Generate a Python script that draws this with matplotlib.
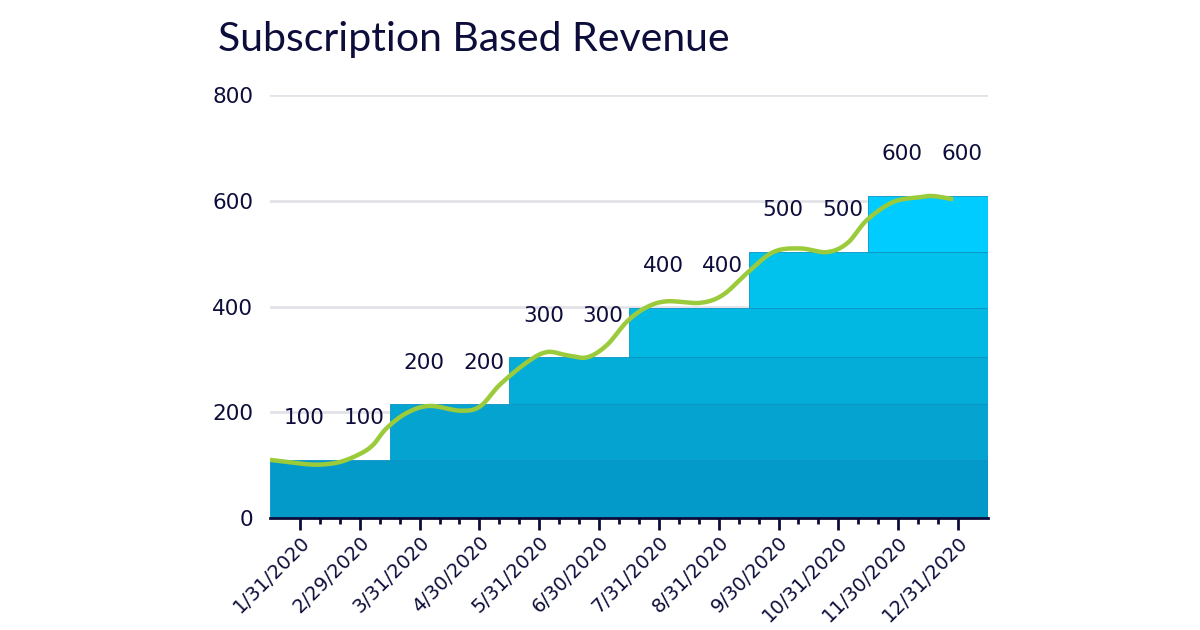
import numpy as np
import matplotlib
matplotlib.use('Agg')
import matplotlib.pyplot as plt

# month labels and revenue shown above each month
months = ['1/31/2020', '2/29/2020', '3/31/2020', '4/30/2020', '5/31/2020', '6/30/2020',
          '7/31/2020', '8/31/2020', '9/30/2020', '10/31/2020', '11/30/2020', '12/31/2020']
revenue = [100, 100, 200, 200, 300, 300, 400, 400, 500, 500, 600, 600]

# height of the stepped area as drawn in the picture (a bit off the labels)
step_tops = [110, 110, 215, 215, 304, 304, 397, 397, 503, 503, 609, 609]

# green trend curve (x in month index)
trend_x = [-0.50, 0.00, 0.33, 0.67, 1.00, 1.22, 1.45, 1.79, 2.17, 2.68, 3.01, 3.34,
           3.80, 4.13, 4.46, 4.80, 5.13, 5.47, 5.80, 6.14, 6.69, 7.07, 7.47, 7.91,
           8.36, 8.81, 9.15, 9.48, 9.92, 10.37, 10.59, 10.92]
trend_y = [110, 103, 101, 106, 121, 138, 170, 199, 212, 203, 211, 252,
           295, 314, 308, 304, 327, 372, 399, 410, 407, 422, 463, 503,
           510, 503, 520, 564, 598, 607, 609, 603]

band_colors = ['#0399C9', '#04A3D0', '#03ADD8', '#00B8E2', '#00C2EC', '#00CCFF']
navy = '#0D0D3B'
green = '#9BCB3B'


def catmull_rom(xs, ys, n=20):
    # smooth curve through the read points
    xs = np.asarray(xs, float)
    ys = np.asarray(ys, float)
    px = np.concatenate([[2 * xs[0] - xs[1]], xs, [2 * xs[-1] - xs[-2]]])
    py = np.concatenate([[2 * ys[0] - ys[1]], ys, [2 * ys[-1] - ys[-2]]])
    out_x, out_y = [], []
    t = np.linspace(0, 1, n, endpoint=False)
    for i in range(1, len(px) - 2):
        for p, out in ((px, out_x), (py, out_y)):
            p0, p1, p2, p3 = p[i - 1], p[i], p[i + 1], p[i + 2]
            out.extend(0.5 * (2 * p1 + (-p0 + p2) * t + (2 * p0 - 5 * p1 + 4 * p2 - p3) * t ** 2
                              + (-p0 + 3 * p1 - 3 * p2 + p3) * t ** 3))
    out_x.append(xs[-1])
    out_y.append(ys[-1])
    return np.array(out_x), np.array(out_y)


plt.rcParams['font.family'] = ['DejaVu Sans']

fig = plt.figure(figsize=(12, 6.3), dpi=100)
ax = fig.add_axes([0.225, 0.1778, 0.5983, 0.6712])

x = np.arange(len(months))
right_end = len(months) - 0.5

# stepped area built as stacked bands, each band starts where its step starts
lower = 0
band = 0
for i in range(len(months)):
    if i == 0 or step_tops[i] != step_tops[i - 1]:
        start = i - 0.5
        ax.bar(start, step_tops[i] - lower, bottom=lower, width=right_end - start,
               align='edge', color=band_colors[band], edgecolor='#0A93C4',
               linewidth=0.6, zorder=2)
        lower = step_tops[i]
        band += 1

sx, sy = catmull_rom(trend_x, trend_y)
ax.plot(sx, sy, color=green, lw=3.2, solid_capstyle='butt', zorder=4)

for i, v in enumerate(revenue):
    ax.annotate(str(v), (x[i], step_tops[i]), xytext=(3, 30), textcoords='offset points',
                ha='center', va='center', fontsize=15.5, color=navy, zorder=5)

ax.set_xlim(-0.5, right_end)
ax.set_ylim(0, 800)
ax.set_yticks([0, 200, 400, 600, 800])
ax.grid(axis='y', color='#E2E2E8', lw=2)
ax.set_axisbelow(True)

ax.set_xticks(x)
ax.set_xticklabels(months, rotation=45, ha='right', rotation_mode='anchor',
                   fontsize=14, color=navy)
ax.set_xticks(np.concatenate([x[:-1] + 1 / 3, x[:-1] + 2 / 3]), minor=True)
ax.tick_params(axis='x', which='major', direction='inout', length=17, width=2,
               color=navy, pad=2)
ax.tick_params(axis='x', which='minor', direction='inout', length=9, width=2, color=navy)
ax.tick_params(axis='y', length=0, pad=12, labelsize=15.5, labelcolor=navy)

for s in ['left', 'right', 'top']:
    ax.spines[s].set_visible(False)
ax.spines['bottom'].set_color(navy)
ax.spines['bottom'].set_linewidth(2)
ax.spines['bottom'].set_zorder(6)

fig.text(218 / 1200, 1 - 51 / 630, 'Subscription Based Revenue', fontsize=29.5,
         family=['Lato', 'DejaVu Sans'], color=navy, va='baseline', ha='left')

fig.savefig('out.png', dpi=100)
